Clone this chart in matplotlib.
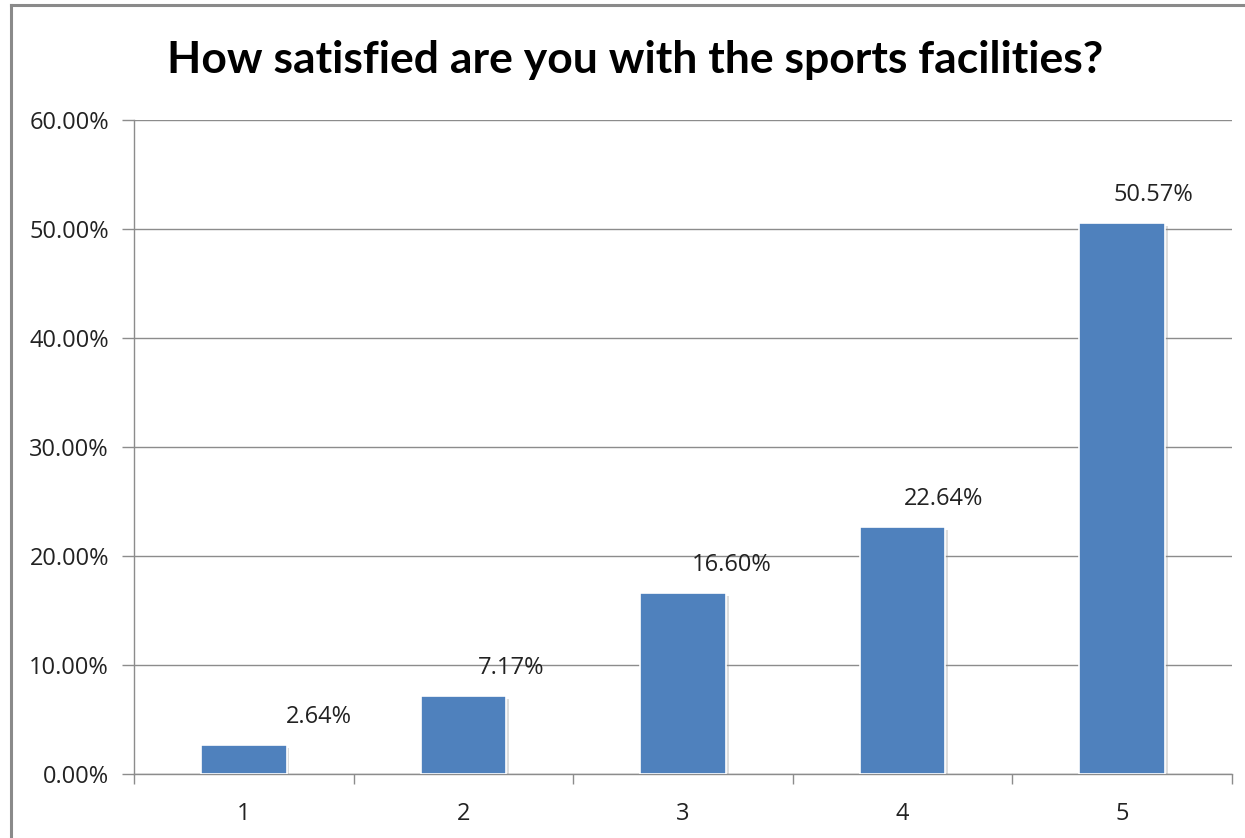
import matplotlib
matplotlib.use("Agg")
import matplotlib.pyplot as plt
import matplotlib.patheffects as pe
from matplotlib.lines import Line2D
from matplotlib.ticker import FuncFormatter, MultipleLocator

categories = ["1", "2", "3", "4", "5"]
shares = [2.64, 7.17, 16.60, 22.64, 50.57]
title = "How satisfied are you with the sports facilities?"

# horizontal nudge of each value label, in pixels
label_dx = [75, 48, 49, 41, 31]

bar_color = "#4F81BD"
axis_gray = "#8C8C8C"
tick_font = ["Open Sans", "DejaVu Sans"]
fs = 17

fig = plt.figure(figsize=(12.45, 8.38), dpi=100)
ax = fig.add_axes([134 / 1245, 64 / 838, 1098 / 1245, 654 / 838])

x = list(range(len(categories)))
bars = ax.bar(x, shares, width=0.39, color=bar_color, edgecolor="white",
              linewidth=1.2, zorder=3)
for b in bars:
    b.set_path_effects([
        pe.SimplePatchShadow(offset=(2, -2), shadow_rgbFace="#909090", alpha=0.3),
        pe.Normal(),
    ])

for xi, v, dx in zip(x, shares, label_dx):
    ax.annotate(f"{v:.2f}%", xy=(xi, v), xytext=(dx, 28),
                textcoords="offset pixels", ha="center", va="center",
                fontsize=fs, family=tick_font, color="#222222")

ax.set_xlim(-0.5, len(categories) - 0.5)
ax.set_ylim(0, 60)
ax.yaxis.set_major_locator(MultipleLocator(10))
ax.yaxis.set_major_formatter(FuncFormatter(lambda v, p: f"{v:.2f}%"))
ax.grid(axis="y", color=axis_gray, linewidth=1.0, zorder=0)
ax.set_axisbelow(True)

ax.set_xticks(x)
ax.set_xticklabels(categories)
ax.set_xticks([i + 0.5 for i in range(-1, len(categories))], minor=True)
ax.tick_params(axis="x", which="major", length=0, pad=20)
ax.tick_params(axis="x", which="minor", length=7, width=1, color=axis_gray)
ax.tick_params(axis="y", length=9, width=1, color=axis_gray, pad=9)
for lab in ax.get_xticklabels() + ax.get_yticklabels():
    lab.set_fontsize(fs)
    lab.set_family(tick_font)
    lab.set_color("#222222")

for s in ["top", "right"]:
    ax.spines[s].set_visible(False)
for s in ["left", "bottom"]:
    ax.spines[s].set_color(axis_gray)
    ax.spines[s].set_linewidth(1.0)

fig.text(635 / 1245, 1 - 60 / 838, title, ha="center", va="center",
         fontsize=32, fontweight="bold", family="Lato", color="black")

# outer chart border (left and top edges)
fig.add_artist(Line2D([11 / 1245, 11 / 1245], [0, 1 - 5 / 838],
                      transform=fig.transFigure, color="#8A8A8A", linewidth=2.2))
fig.add_artist(Line2D([11 / 1245, 1], [1 - 5 / 838, 1 - 5 / 838],
                      transform=fig.transFigure, color="#8A8A8A", linewidth=2.2))

fig.savefig("out.png", dpi=100)
